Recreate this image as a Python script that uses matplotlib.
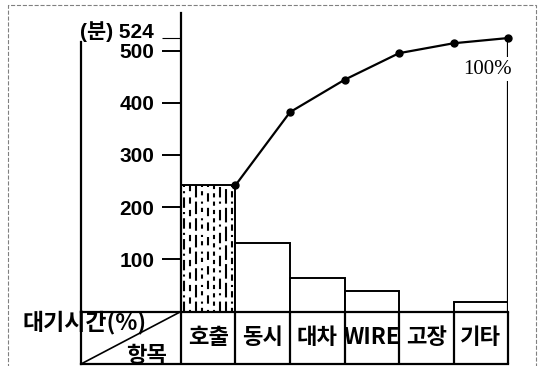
import numpy as np
import matplotlib
matplotlib.use('Agg')
import matplotlib.pyplot as plt
from matplotlib.patches import Rectangle

# Values (minutes)
categories = ['호출', '동시', '대차', 'WIRE', '고장', '기타']
wait_min = [242, 132, 64, 39, 0, 18]
cum_min = [242, 382, 444, 495, 514, 524]
y_ticks = [100, 200, 300, 400, 500]
total_min = 524

KR = ['Noto Sans CJK KR', 'DejaVu Sans']
NUM = ['Liberation Sans Narrow', 'Liberation Sans', 'Noto Sans CJK KR', 'DejaVu Sans']
SERIF = ['Liberation Serif', 'DejaVu Serif']

W, H = 538, 366
fig = plt.figure(figsize=(W / 100, H / 100), dpi=100)
ax = fig.add_axes([181 / W, 1 - 311.5 / H, 327 / W, (311.5 - 13) / H])

x = np.arange(len(categories))
bars = ax.bar(x, wait_min, width=1.0, color='white', edgecolor='black', linewidth=1.4, zorder=2)

# stippled texture on the first bar (vertical broken strokes)
b0 = bars[0]
dash_styles = [(0, (5, 2, 1, 2)), (2, (3, 3)), (1, (6, 2)), (0, (2, 2, 1, 3)),
               (3, (4, 3)), (1, (2, 2)), (0, (5, 3, 1, 2)), (2, (7, 2)), (1, (3, 2, 1, 2))]
xs = np.linspace(b0.get_x() + 0.06, b0.get_x() + b0.get_width() - 0.06, len(dash_styles))
for xi, ls in zip(xs, dash_styles):
    ln, = ax.plot([xi, xi], [0, wait_min[0]], color='black', lw=1.5, linestyle=ls, zorder=3)
    ln.set_clip_path(b0)

# cumulative line
ax.plot(x + 0.5, cum_min, color='black', lw=1.6, marker='o', ms=5, zorder=4, clip_on=False)
ax.vlines(x[-1] + 0.5, 0, total_min, color='black', lw=1.6, zorder=3)

ax.set_xlim(-0.5, len(categories) - 0.5)
ax.set_ylim(0, 572)

for s in ['top', 'right', 'bottom']:
    ax.spines[s].set_visible(False)
ax.spines['left'].set_linewidth(1.6)

ax.set_yticks(y_ticks)
ax.tick_params(axis='y', direction='out', length=13.7, width=1.4, pad=5.5, labelsize=15)
for t in ax.get_yticklabels():
    t.set_family(NUM)
    t.set_fontweight('bold')
ax.set_yticks([total_min], minor=True)
ax.tick_params(axis='y', which='minor', direction='out', length=13.7, width=0.8)

ax.set_xticks(x, categories)
ax.tick_params(axis='x', length=0, pad=18.5, labelsize=16)
for t in ax.get_xticklabels():
    t.set_family(KR)
    t.set_fontweight('bold')
    t.set_va('center')

ax.annotate('(분) 524', xy=(0, total_min), xycoords=('axes fraction', 'data'),
            xytext=(-27, 6), textcoords='offset pixels', ha='right', va='center',
            fontsize=15, family=NUM, fontweight='bold')
ax.annotate('100%', xy=(x[-1] + 0.5, total_min), xytext=(4, -31), textcoords='offset pixels',
            ha='right', va='center', fontsize=15, family=SERIF,
            bbox=dict(facecolor='white', edgecolor='none', pad=1.5), zorder=5)

# table row under the axis
fx = (81 - 181) / 327
rh = (364 - 311.5) / 298.5
top = (311.5 - 42) / 298.5
kw = dict(color='black', lw=1.6, transform=ax.transAxes, clip_on=False)
ax.plot([fx, 1], [0, 0], **kw)
ax.plot([fx, 1], [-rh, -rh], **kw)
ax.plot([fx, fx], [-rh, top], **kw)
ax.plot([fx, 0], [-rh, 0], color='black', lw=1.2, transform=ax.transAxes, clip_on=False)
ax.vlines(np.arange(len(categories) + 1) - 0.5, -rh, 0, color='black', lw=1.6,
          transform=ax.get_xaxis_transform(), clip_on=False)

fig.text(23 / W, 1 - 322 / H, '대기시간(%)', ha='left', va='center', fontsize=16.5,
         family=KR, fontweight='bold')
fig.text(147 / W, 1 - 355 / H, '항목', ha='center', va='center', fontsize=16,
         family=KR, fontweight='bold')

fig.add_artist(Rectangle((8 / W, -0.05), (536 - 8) / W, 1 - 5 / H + 0.05,
                         transform=fig.transFigure, fill=False, ls='--',
                         ec='gray', lw=0.8))

fig.savefig('out.png', dpi=100)
